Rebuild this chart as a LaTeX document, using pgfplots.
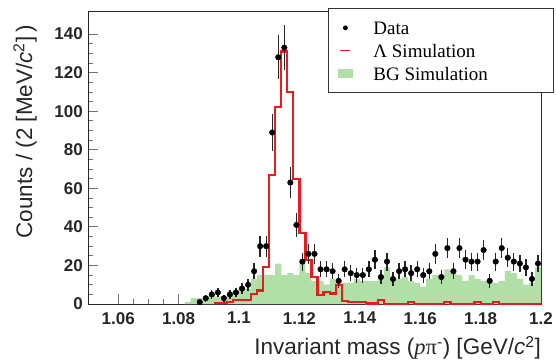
\documentclass[border=0pt]{standalone}
\usepackage{fontspec}
\setmainfont{Liberation Serif}
\newfontfamily\arial{Liberation Sans}
\usepackage{pgfplots}
\pgfplotsset{compat=1.18}
\definecolor{bggreen}{RGB}{178,222,168}
\definecolor{simred}{RGB}{232,28,28}

\begin{document}
\begin{tikzpicture}
\path[use as bounding box] (0,0) rectangle (556pt,362pt);
\begin{axis}[
  at={(88pt,58pt)}, anchor=south west,
  scale only axis, width=453pt, height=293pt,
  xmin=1.05, xmax=1.2, ymin=0, ymax=152,
  xtick={1.06,1.08,1.1,1.12,1.14,1.16,1.18,1.2},
  xticklabels={1.06,1.08,1.1,1.12,1.14,1.16,1.18,1.2},
  minor x tick num=3,
  ytick={0,20,40,60,80,100,120,140},
  yticklabels={0,20,40,60,80,100,120,140},
  minor y tick num=3,
  tick pos=left, tick align=inside,
  major tick length=10pt, minor tick length=5pt,
  every tick/.style={black!55, line width=0.8pt},
  axis line style={black!85, line width=0.9pt},
  ticklabel style={font=\arial\bfseries\fontsize{17}{17}\selectfont, text=black!85},
  yticklabel style={inner sep=0pt, xshift=-5pt},
  xticklabel style={inner sep=0pt, yshift=-8pt},
  label style={font=\arial\fontsize{22.5}{22.5}\selectfont, text=black!85},
  xlabel={Invariant mass ({\rmfamily\itshape p}{\rmfamily π}\textsuperscript{-}) [GeV/{\itshape c}\textsuperscript{2}]},
  ylabel={Counts / (2 [MeV/{\itshape c}\textsuperscript{2}]\,)},
  xlabel style={at={(axis description cs:1,-0.174)}, anchor=base east, inner sep=0pt},
  ylabel style={at={(axis description cs:-0.1236,0.952)}, anchor=base east, inner sep=0pt},
  reverse legend,
  legend style={
    at={(axis description cs:0.5298,1.0102)}, anchor=north west,
    draw=black!80, line width=0.8pt, fill=white,
    inner xsep=7pt, inner ysep=8pt,
    row sep=0pt, column sep=18pt,
    font=\fontsize{19}{22}\selectfont,
    nodes={inner sep=0pt, text height=18pt, text depth=4.8pt},
  },
  legend cell align=left,
]
% background simulation (left bin edges)
\addplot[const plot, fill=bggreen, draw=none,
  legend image code/.code={\path[draw=none,fill=none] (-10pt,-5pt) rectangle (10pt,5pt); \fill[bggreen] (-7.5pt,-4.5pt) rectangle (7.5pt,4.5pt);}]
table[row sep=\\]{
x y\\
1.082 1\\ 1.084 3\\ 1.086 3\\ 1.088 4\\ 1.090 5\\ 1.092 4\\ 1.094 2\\ 1.096 6\\ 1.098 7\\ 1.100 9\\
1.102 8\\ 1.104 13\\ 1.106 15\\ 1.108 15\\ 1.110 15\\ 1.112 21\\ 1.114 15\\ 1.116 16\\ 1.118 15\\ 1.120 23\\
1.122 16\\ 1.124 12\\ 1.126 12\\ 1.128 10\\ 1.130 13\\ 1.132 12\\ 1.134 11\\ 1.136 11\\ 1.138 13\\ 1.140 12\\
1.142 12\\ 1.144 12\\ 1.146 15\\ 1.148 19\\ 1.150 13\\ 1.152 13\\ 1.154 14\\ 1.156 12\\ 1.158 11\\ 1.160 9\\
1.162 13\\ 1.164 15\\ 1.166 15\\ 1.168 18\\ 1.170 17\\ 1.172 15\\ 1.174 12\\ 1.176 15\\ 1.178 13\\ 1.180 12\\
1.182 12\\ 1.184 11\\ 1.186 12\\ 1.188 17\\ 1.190 16\\ 1.192 13\\ 1.194 10\\ 1.196 11\\ 1.198 19\\ 1.200 19\\
} \closedcycle;
\addlegendentry{\makebox[173pt][l]{BG Simulation}}
% Lambda simulation (step outline, explicit corners)
\addplot[sharp plot, draw=simred, line width=2.2pt, mark=none,
  legend image code/.code={\path[draw=none,fill=none] (-10pt,-5pt) rectangle (10pt,5pt); \draw[simred, line width=1.5pt] (-5pt,0pt) -- (5pt,0pt);}]
coordinates {
(1.092,0) (1.092,0.5) (1.096,0.5) (1.096,1) (1.098,1) (1.098,2) (1.104,2) (1.104,5) (1.106,5) (1.106,7)
(1.108,7) (1.108,19) (1.110,19) (1.110,67) (1.112,67) (1.112,102) (1.114,102) (1.114,131) (1.116,131) (1.116,110)
(1.118,110) (1.118,65) (1.120,65) (1.120,37) (1.122,37) (1.122,23) (1.124,23) (1.124,14) (1.126,14) (1.126,4.5)
(1.128,4.5) (1.128,6.4) (1.130,6.4) (1.130,5.5) (1.132,5.5) (1.132,9.8) (1.134,9.8) (1.134,1.5) (1.136,1.5) (1.136,1)
(1.142,1) (1.142,0.3) (1.146,0.3) (1.146,2) (1.148,2) (1.148,0.2) (1.156,0.2) (1.156,1) (1.158,1) (1.158,0.2)
(1.168,0.2) (1.168,1) (1.170,1) (1.170,0.2) (1.178,0.2) (1.178,1) (1.180,1) (1.180,0.2) (1.184,0.2) (1.184,1)
(1.186,1) (1.186,0.2) (1.200,0.2)
};
\addlegendentry{\makebox[173pt][l]{Λ Simulation}}
% Data
\addplot[only marks, mark=*, mark size=2.8pt, mark options={fill=black, draw=black},
  error bars/.cd, y dir=both, y explicit, error mark=none,
  error bar style={line width=1.3pt, black!85},
  /pgfplots/legend image code/.code={\path[draw=none,fill=none] (-10pt,-5pt) rectangle (10pt,5pt); \fill[black] (0pt,0pt) circle (2pt);}]
table[row sep=\\, y error=e]{
x y e\\
1.087 1 1\\ 1.089 3 1.73\\ 1.091 5 2.24\\ 1.093 6 2.45\\ 1.095 3 1.73\\ 1.097 5 2.24\\
1.099 6 2.45\\ 1.101 8 2.83\\ 1.103 10 3.16\\ 1.105 17 4.12\\ 1.107 30 5.48\\ 1.109 30 5.48\\
1.111 89 9.43\\ 1.113 128 11.31\\ 1.115 133 11.53\\ 1.117 63 7.94\\ 1.119 41 6.40\\ 1.121 22 4.69\\
1.123 26 5.10\\ 1.125 26 5.10\\ 1.127 18 4.24\\ 1.129 18 4.24\\ 1.131 17 4.12\\ 1.133 12 3.46\\
1.135 18 4.24\\ 1.137 16 4.00\\ 1.139 15 3.87\\ 1.141 15 3.87\\ 1.143 18 4.24\\ 1.145 23 4.80\\
1.147 14 3.74\\ 1.149 22 4.69\\ 1.151 13 3.61\\ 1.153 17 4.12\\ 1.155 18 4.24\\ 1.157 16 4.00\\
1.159 18 4.24\\ 1.161 15 3.87\\ 1.163 17 4.12\\ 1.165 26 5.10\\ 1.167 14 3.74\\ 1.169 29 5.39\\
1.171 17 4.12\\ 1.173 29 5.39\\ 1.175 23 4.80\\ 1.177 22 4.69\\ 1.179 22 4.69\\ 1.181 28 5.29\\
1.183 12 3.46\\ 1.185 22 4.69\\ 1.187 29 5.39\\ 1.189 24 4.90\\ 1.191 22 4.69\\ 1.193 21 4.58\\
1.195 19 4.36\\ 1.197 13 3.61\\ 1.199 21 4.58\\
};
\addlegendentry{\makebox[173pt][l]{Data}}
\end{axis}
\end{tikzpicture}
\end{document}
